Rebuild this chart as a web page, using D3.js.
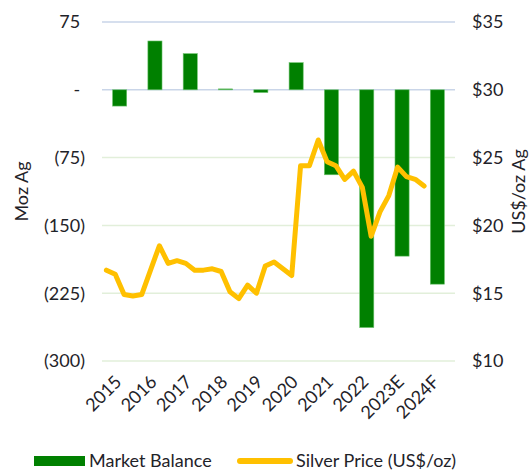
<!DOCTYPE html>
<html>
<head>
<meta charset="utf-8">
<script src="https://cdn.jsdelivr.net/npm/d3@7"></script>
<style>
  body { margin: 0; background: #fff; }
  text { font-family: Lato, "Open Sans", sans-serif; fill: #1f2329; font-size: 18px; }
</style>
</head>
<body>
<div id="viz"></div>
<script>
// market balance (Moz Ag), yearly
var years = ['2015', '2016', '2017', '2018', '2019', '2020', '2021', '2022', '2023E', '2024F'];
var balance = [-18, 54, 40, 1, -3, 30, -94, -263, -184, -215];

// silver price (US$/oz), quarterly 2015 Q1 .. 2024 Q1
var quarters = ['2015Q1', '2015Q2', '2015Q3', '2015Q4', '2016Q1', '2016Q2', '2016Q3', '2016Q4',
    '2017Q1', '2017Q2', '2017Q3', '2017Q4', '2018Q1', '2018Q2', '2018Q3', '2018Q4',
    '2019Q1', '2019Q2', '2019Q3', '2019Q4', '2020Q1', '2020Q2', '2020Q3', '2020Q4',
    '2021Q1', '2021Q2', '2021Q3', '2021Q4', '2022Q1', '2022Q2', '2022Q3', '2022Q4',
    '2023Q1', '2023Q2', '2023Q3', '2023Q4', '2024Q1'];
var price = [16.7, 16.4, 14.9, 14.8, 14.9, 16.7, 18.5, 17.2, 17.4, 17.2, 16.7, 16.7,
    16.8, 16.6, 15.1, 14.6, 15.6, 15.0, 17.0, 17.3, 16.8, 16.3, 24.4, 24.4,
    26.3, 24.7, 24.4, 23.4, 24.0, 22.8, 19.2, 21.0, 22.2, 24.3, 23.6, 23.4, 22.9];

var leftTicks = [75, 0, -75, -150, -225, -300];
var rightTicks = [35, 30, 25, 20, 15, 10];

var margin = {top: 22, right: 75, bottom: 111, left: 102},
    W = 530, H = 472,
    width = W - margin.left - margin.right,
    height = H - margin.top - margin.bottom;

var svg = d3.select('#viz').append('svg')
    .attr('width', W)
    .attr('height', H);

var g = svg.append('g')
    .attr('transform', 'translate(' + margin.left + ',' + margin.top + ')');

var x = d3.scaleBand().domain(years).range([0, width]).paddingInner(0.6).paddingOuter(0.3);
var xq = d3.scaleLinear().domain([0, years.length * 4]).range([0, width]);
var y = d3.scaleLinear().domain([-300, 75]).range([height, 0]);
var y2 = d3.scaleLinear().domain([10, 35]).range([height, 0]);

// gridlines
g.append('g').selectAll('line')
    .data(leftTicks)
    .enter().append('line')
    .attr('x1', 0).attr('x2', width)
    .attr('y1', d => y(d)).attr('y2', d => y(d))
    .attr('stroke', d => d >= 0 ? '#c9d5e8' : '#e2efda')
    .attr('stroke-width', 1.5);

// left axis labels (positive numbers padded by an invisible ")")
var ll = g.append('g').selectAll('text')
    .data(leftTicks)
    .enter().append('text')
    .attr('x', -17)
    .attr('y', d => y(d))
    .attr('dy', '0.35em')
    .attr('text-anchor', 'end');
ll.append('tspan').text(d => d === 0 ? '-' : d < 0 ? '(' + (-d) + ')' : d);
ll.filter(d => d >= 0).append('tspan').text(')').style('fill-opacity', 0);

// right axis labels
g.append('g').selectAll('text')
    .data(rightTicks)
    .enter().append('text')
    .attr('x', width + 17)
    .attr('y', d => y2(d))
    .attr('dy', '0.35em')
    .text(d => '$' + d);

// bars
g.append('g').selectAll('rect')
    .data(balance)
    .enter().append('rect')
    .attr('x', (d, i) => x(years[i]))
    .attr('width', x.bandwidth())
    .attr('y', d => y(Math.max(0, d)))
    .attr('height', d => Math.abs(y(d) - y(0)))
    .attr('fill', '#008000')
    .attr('stroke', '#6cc26c')
    .attr('stroke-width', 0.6);

// price line
var line = d3.line()
    .x((d, i) => xq(i + 0.5))
    .y(d => y2(d));

g.append('path')
    .datum(price)
    .attr('d', line)
    .attr('fill', 'none')
    .attr('stroke', '#ffc000')
    .attr('stroke-width', 5)
    .attr('stroke-linejoin', 'round')
    .attr('stroke-linecap', 'round');

// x labels
g.append('g').selectAll('text')
    .data(years)
    .enter().append('text')
    .attr('transform', d => 'translate(' + (x(d) + x.bandwidth() / 2 + 3) + ',' + (height + 22) + ')rotate(-45)')
    .attr('text-anchor', 'end')
    .text(d => d);

// axis titles
svg.append('text')
    .attr('transform', 'translate(28,' + (margin.top + height / 2) + ')rotate(-90)')
    .attr('text-anchor', 'middle')
    .text('Moz Ag');

svg.append('text')
    .attr('transform', 'translate(525,' + (margin.top + height / 2) + ')rotate(-90)')
    .attr('text-anchor', 'middle')
    .text('US$/oz Ag');

// legend
var lg = svg.append('g').attr('transform', 'translate(0,461)');
lg.append('rect')
    .attr('x', 34).attr('y', -5).attr('width', 51).attr('height', 10)
    .attr('fill', '#008000');
lg.append('text')
    .attr('x', 89).attr('dy', '0.35em')
    .text('Market Balance');
lg.append('line')
    .attr('x1', 240).attr('x2', 290)
    .attr('stroke', '#ffc000')
    .attr('stroke-width', 6)
    .attr('stroke-linecap', 'round');
lg.append('text')
    .attr('x', 296).attr('dy', '0.35em')
    .text('Silver Price (US$/oz)');
</script>
</body>
</html>
